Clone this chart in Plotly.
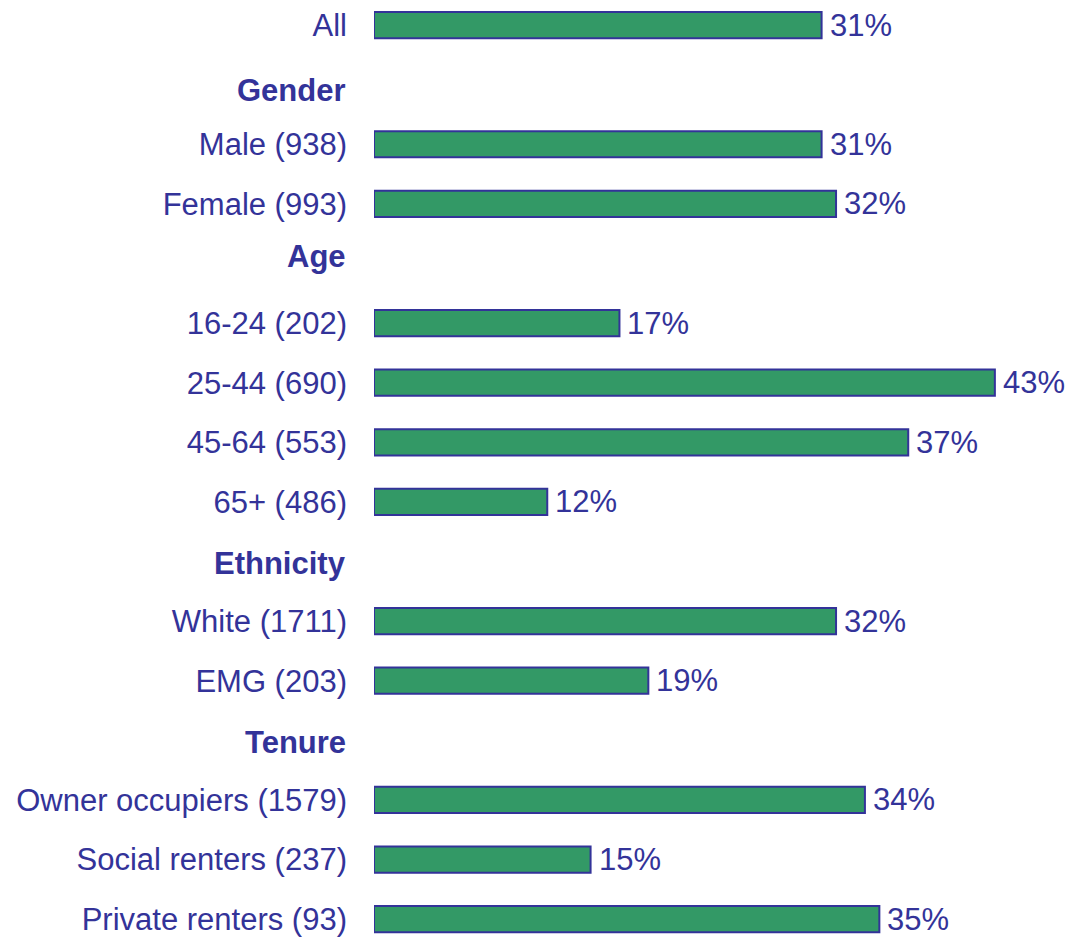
import plotly.graph_objects as go

# Survey breakdown: share of respondents by group (base sizes in brackets)
categories = [
    "All",
    "Gender",
    "Male (938)",
    "Female (993)",
    "Age",
    "16-24 (202)",
    "25-44 (690)",
    "45-64 (553)",
    "65+ (486)",
    "Ethnicity",
    "White (1711)",
    "EMG (203)",
    "Tenure",
    "Owner occupiers (1579)",
    "Social renters (237)",
    "Private renters (93)",
]
values = [31, None, 31, 32, None, 17, 43, 37, 12, None, 32, 19, None, 34, 15, 35]
group_headers = ["Gender", "Age", "Ethnicity", "Tenure"]

BLUE = "#333399"
GREEN = "#339966"
FONT = "Liberation Sans, Arial, sans-serif"
SIZE = 31

fig = go.Figure(
    go.Bar(
        y=categories,
        x=values,
        orientation="h",
        marker=dict(color=GREEN, line=dict(color=BLUE, width=2)),
        hoverinfo="skip",
    )
)

# percentage labels just past the end of each bar
for cat, v in zip(categories, values):
    if v is None:
        continue
    fig.add_annotation(
        x=v, y=cat, xref="x", yref="y",
        text=f"{v}%", showarrow=False,
        xanchor="left", yanchor="middle", xshift=6,
        font=dict(family=FONT, size=SIZE, color=BLUE),
    )

# bold group headings, nudged slightly off their row
header_shift = {"Gender": -6, "Age": 7, "Ethnicity": -2, "Tenure": -2}
for h in group_headers:
    fig.add_annotation(
        x=0, y=h, xref="paper", yref="y",
        text=f"<b>{h}</b>", showarrow=False,
        xanchor="right", yanchor="middle", xshift=-26, yshift=header_shift[h],
        font=dict(family=FONT, size=SIZE, color=BLUE),
    )

row_labels = [c for c in categories if c not in group_headers]

fig.update_layout(
    width=1075,
    height=937,
    margin=dict(l=374, r=0, t=0, b=0),
    paper_bgcolor="white",
    plot_bgcolor="white",
    bargap=0.56,
    showlegend=False,
    font=dict(family=FONT, size=SIZE, color=BLUE),
)

fig.update_xaxes(
    range=[0, 48.55],
    showgrid=False,
    zeroline=False,
    showticklabels=False,
    showline=False,
)
fig.update_yaxes(
    type="category",
    categoryorder="array",
    categoryarray=categories,
    tickmode="array",
    tickvals=row_labels,
    ticktext=row_labels,
    range=[15.3, -0.42],
    showgrid=False,
    zeroline=False,
    showline=False,
    ticks="",
    ticklabelstandoff=26,
    tickfont=dict(family=FONT, size=SIZE, color=BLUE),
)

fig.write_html("out.html")
